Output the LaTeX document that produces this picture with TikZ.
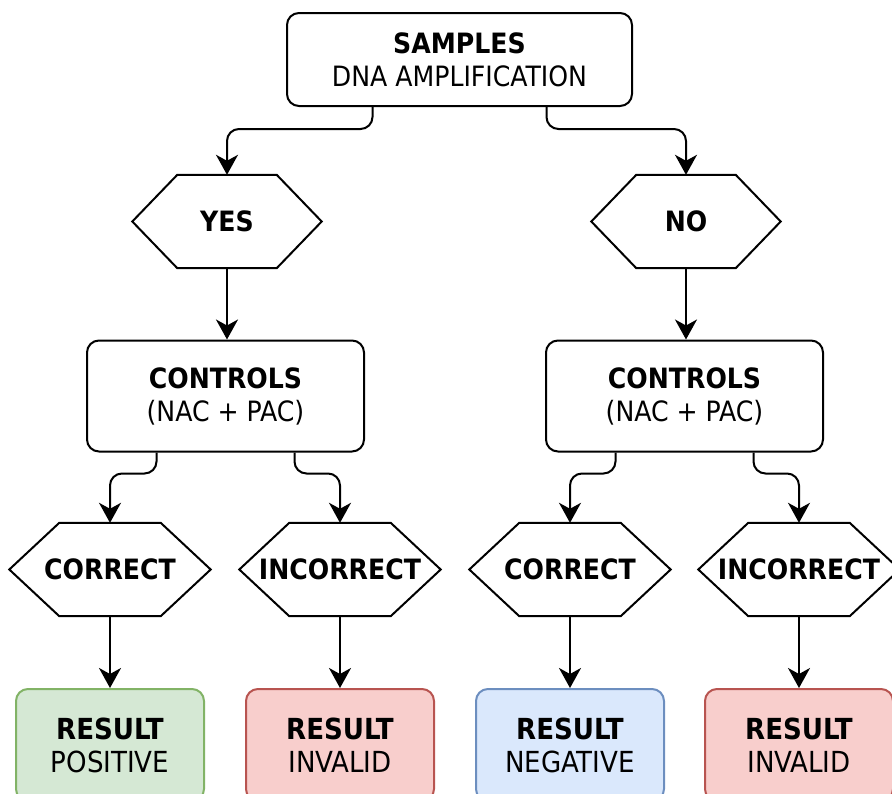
\documentclass[tikz,border=0pt]{standalone}
\usepackage{fontspec}
\setmainfont{DejaVu Sans Condensed}
\usetikzlibrary{arrows.meta,calc}
\definecolor{gfill}{HTML}{D5E8D4}
\definecolor{gline}{HTML}{82B366}
\definecolor{rfill}{HTML}{F8CECC}
\definecolor{rline}{HTML}{B85450}
\definecolor{bfill}{HTML}{DAE8FC}
\definecolor{bline}{HTML}{6C8EBF}
\begin{document}
\begin{tikzpicture}[x=1pt,y=-1pt,
  txt/.style={font=\fontsize{28}{33}\selectfont, align=center, inner sep=0pt},
  box/.style={txt, draw, line width=2pt, rounded corners=12pt},
  topbox/.style={box, minimum width=345pt, minimum height=93pt},
  ctlbox/.style={box, minimum width=277pt, minimum height=111pt},
  resbox/.style={box, font=\fontsize{29}{33}\selectfont, minimum width=188pt, minimum height=112pt},
  hexn/.style={txt, font=\fontsize{28}{33}\selectfont\bfseries},
  hexline/.style={draw, line width=2pt, line join=miter},
  arr/.style={line width=2pt, -{Stealth[length=20pt,width=22pt,inset=6pt]}, rounded corners=12pt}
]
\useasboundingbox (0,0) rectangle (892,793);

% top
\node[topbox] (top) at (459.5,59.5) {\textbf{SAMPLES}\\DNA AMPLIFICATION};

% level 1 hexagons
\node[hexn, minimum width=189pt, minimum height=93pt] (yes) at (227,221.5) {YES};
\node[hexn, minimum width=189pt, minimum height=93pt] (no) at (686,221.5) {NO};
\foreach \n in {yes,no}
  \draw[hexline] ($(\n.north west)+(45,0)$) -- ($(\n.north east)+(-45,0)$) -- (\n.east)
     -- ($(\n.south east)+(-45,0)$) -- ($(\n.south west)+(45,0)$) -- (\n.west) -- cycle;

% controls
\node[ctlbox] (ctl1) at (225.5,396) {\textbf{CONTROLS}\\(NAC + PAC)};
\node[ctlbox] (ctl2) at (684.5,396) {\textbf{CONTROLS}\\(NAC + PAC)};

% level 2 hexagons
\node[hexn, minimum width=201pt, minimum height=93pt] (c1) at (110,569.5) {CORRECT};
\node[hexn, minimum width=201pt, minimum height=93pt] (i1) at (340,569.5) {INCORRECT};
\node[hexn, minimum width=201pt, minimum height=93pt] (c2) at (570,569.5) {CORRECT};
\node[hexn, minimum width=201pt, minimum height=93pt] (i2) at (799,569.5) {INCORRECT};
\foreach \n in {c1,i1,c2,i2}
  \draw[hexline] ($(\n.north west)+(50,0)$) -- ($(\n.north east)+(-50,0)$) -- (\n.east)
     -- ($(\n.south east)+(-50,0)$) -- ($(\n.south west)+(50,0)$) -- (\n.west) -- cycle;

% results
\node[resbox, draw=gline, fill=gfill] (r1) at (110,745) {\textbf{RESULT}\\POSITIVE};
\node[resbox, draw=rline, fill=rfill] (r2) at (340,745) {\textbf{RESULT}\\INVALID};
\node[resbox, draw=bline, fill=bfill] (r3) at (570,745) {\textbf{RESULT}\\NEGATIVE};
\node[resbox, draw=rline, fill=rfill] (r4) at (799,745) {\textbf{RESULT}\\INVALID};

% connectors
\draw[arr] ([xshift=-87pt]top.south) -- ++(0,22) -| (yes.north);
\draw[arr] ([xshift=87pt]top.south) -- ++(0,22) -| (no.north);
\draw[arr] (yes.south) -- (yes.south |- ctl1.north);
\draw[arr] (no.south) -- (no.south |- ctl2.north);
\draw[arr] ([xshift=-69pt]ctl1.south) -- ++(0,21) -| (c1.north);
\draw[arr] ([xshift=69pt]ctl1.south) -- ++(0,21) -| (i1.north);
\draw[arr] ([xshift=-69pt]ctl2.south) -- ++(0,21) -| (c2.north);
\draw[arr] ([xshift=69pt]ctl2.south) -- ++(0,21) -| (i2.north);
\draw[arr] (c1) -- (r1);
\draw[arr] (i1) -- (r2);
\draw[arr] (c2) -- (r3);
\draw[arr] (i2) -- (r4);
\end{tikzpicture}
\end{document}
